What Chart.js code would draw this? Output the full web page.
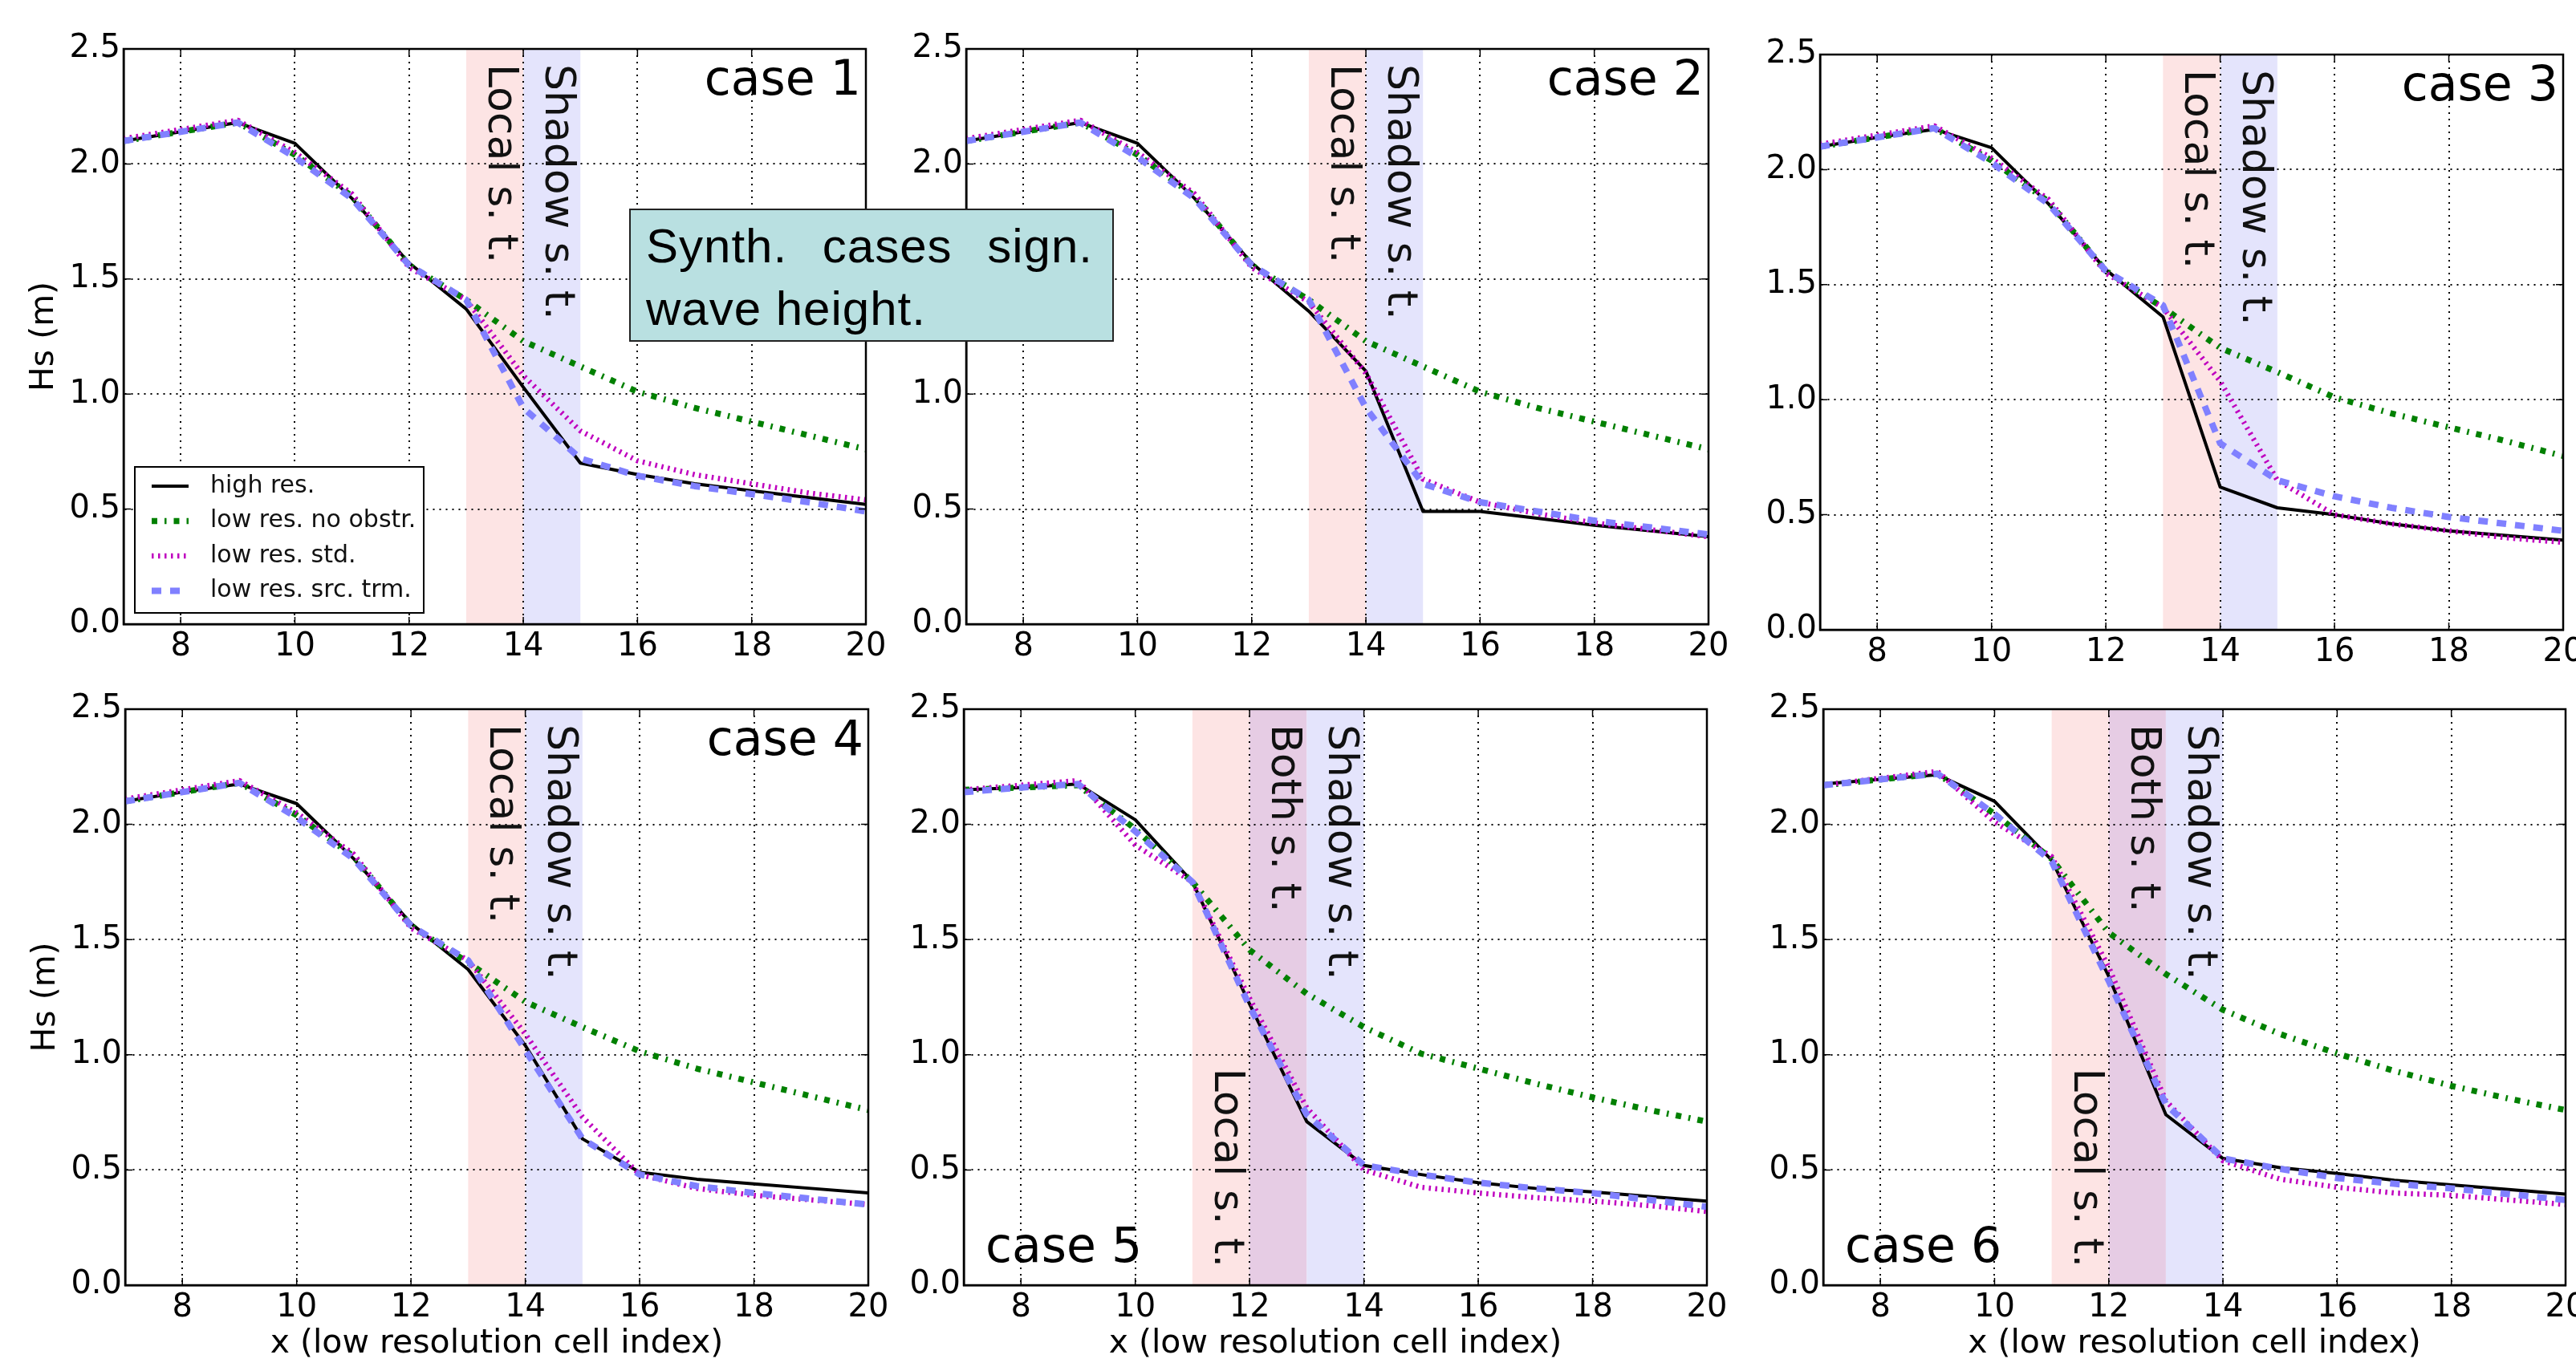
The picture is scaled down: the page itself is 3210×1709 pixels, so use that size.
<!DOCTYPE html>
<html>
<head>
<meta charset="utf-8">
<title>Synth. cases sign. wave height</title>
<script src="https://cdn.jsdelivr.net/npm/chart.js@4.4.0/dist/chart.umd.min.js"></script>
<style>
  html, body { margin: 0; padding: 0; background: #fff; overflow: hidden; }
  #page { position: relative; width: 3210px; height: 1709px; overflow: hidden; }
  #page canvas { position: absolute; }
  .note {
    position: absolute; left: 784px; top: 260px; width: 604px; height: 166px;
    box-sizing: border-box; padding: 6px 0 0 19px;
    background: #b9e0e1; border: 2px solid #222; z-index: 5;
    font-family: 'Liberation Sans', Arial, sans-serif; font-size: 60px; line-height: 78px;
    letter-spacing: 1px; color: #000; white-space: nowrap;
  }
  .note .l1 { word-spacing: 26px; }
</style>
</head>
<body>
<div id="page">
  <div class="note"><div class="l1">Synth. cases sign.</div><div>wave height.</div></div>
</div>
<script>
// low resolution cell index (x) and axis ticks
const xCells = [7, 8, 9, 10, 11, 12, 13, 14, 15, 16, 17, 18, 19, 20];
const xTicks = [8, 10, 12, 14, 16, 18, 20];
const yTicks = [0, 0.5, 1, 1.5, 2, 2.5];
const yTickLabels = ['0.0', '0.5', '1.0', '1.5', '2.0', '2.5'];

const seriesNames = ['high res.', 'low res. no obstr.', 'low res. std.', 'low res. src. trm.'];
const caseNames = ['case 1', 'case 2', 'case 3', 'case 4', 'case 5', 'case 6'];
const xTitle = 'x (low resolution cell index)';
const yTitle = 'Hs (m)';

// Hs (m), one row per case
const highRes = [
  [2.10, 2.14, 2.18, 2.09, 1.85, 1.57, 1.37, 1.03, 0.70, 0.65, 0.61, 0.58, 0.55, 0.52],
  [2.10, 2.14, 2.18, 2.09, 1.85, 1.57, 1.36, 1.10, 0.49, 0.49, 0.46, 0.43, 0.405, 0.38],
  [2.10, 2.14, 2.175, 2.095, 1.85, 1.565, 1.36, 0.62, 0.53, 0.50, 0.46, 0.43, 0.41, 0.39],
  [2.10, 2.14, 2.175, 2.09, 1.85, 1.57, 1.37, 1.04, 0.635, 0.49, 0.46, 0.44, 0.42, 0.40],
  [2.15, 2.16, 2.175, 2.02, 1.75, 1.22, 0.71, 0.52, 0.48, 0.445, 0.42, 0.405, 0.385, 0.365],
  [2.175, 2.195, 2.215, 2.10, 1.845, 1.34, 0.74, 0.55, 0.51, 0.485, 0.455, 0.435, 0.415, 0.395]
];
const lowNoObstr = [
  [2.10, 2.14, 2.18, 2.04, 1.86, 1.56, 1.41, 1.23, 1.12, 1.01, 0.94, 0.88, 0.82, 0.76],
  [2.10, 2.14, 2.18, 2.04, 1.86, 1.56, 1.41, 1.23, 1.12, 1.01, 0.94, 0.88, 0.82, 0.76],
  [2.10, 2.14, 2.18, 2.04, 1.86, 1.56, 1.40, 1.225, 1.12, 1.01, 0.94, 0.88, 0.82, 0.755],
  [2.10, 2.14, 2.18, 2.04, 1.86, 1.56, 1.40, 1.23, 1.12, 1.015, 0.94, 0.88, 0.82, 0.76],
  [2.15, 2.16, 2.17, 1.98, 1.75, 1.455, 1.265, 1.12, 1.005, 0.94, 0.875, 0.815, 0.76, 0.71],
  [2.17, 2.195, 2.22, 2.045, 1.85, 1.53, 1.35, 1.195, 1.09, 1.005, 0.93, 0.865, 0.81, 0.76]
];
const lowStd = [
  [2.11, 2.15, 2.19, 2.05, 1.87, 1.55, 1.41, 1.08, 0.84, 0.71, 0.65, 0.61, 0.57, 0.54],
  [2.11, 2.15, 2.19, 2.05, 1.87, 1.55, 1.40, 1.09, 0.63, 0.53, 0.48, 0.44, 0.41, 0.38],
  [2.11, 2.15, 2.19, 2.05, 1.87, 1.55, 1.40, 1.08, 0.65, 0.50, 0.46, 0.43, 0.40, 0.38],
  [2.11, 2.15, 2.19, 2.05, 1.87, 1.55, 1.41, 1.09, 0.73, 0.48, 0.42, 0.39, 0.37, 0.35],
  [2.15, 2.17, 2.19, 1.91, 1.75, 1.245, 0.77, 0.50, 0.425, 0.40, 0.38, 0.365, 0.345, 0.32],
  [2.17, 2.20, 2.23, 2.01, 1.86, 1.38, 0.80, 0.54, 0.46, 0.425, 0.40, 0.39, 0.37, 0.35]
];
const lowSrcTrm = [
  [2.10, 2.14, 2.18, 2.03, 1.85, 1.56, 1.41, 0.94, 0.72, 0.645, 0.60, 0.565, 0.53, 0.49],
  [2.10, 2.14, 2.18, 2.03, 1.85, 1.56, 1.41, 0.94, 0.61, 0.53, 0.49, 0.45, 0.42, 0.39],
  [2.10, 2.14, 2.18, 2.03, 1.85, 1.56, 1.41, 0.81, 0.65, 0.58, 0.53, 0.49, 0.46, 0.43],
  [2.10, 2.14, 2.18, 2.03, 1.85, 1.56, 1.41, 1.02, 0.635, 0.48, 0.43, 0.40, 0.375, 0.35],
  [2.14, 2.16, 2.175, 1.97, 1.75, 1.21, 0.74, 0.52, 0.48, 0.445, 0.42, 0.40, 0.37, 0.34],
  [2.17, 2.195, 2.22, 2.045, 1.84, 1.32, 0.785, 0.55, 0.505, 0.465, 0.44, 0.42, 0.395, 0.37]
];

// sub-timestep zones per case, in cell index
const localZone = [[13, 14], [13, 14], [13, 14], [13, 14], [11, 12], [11, 12]];
const bothZone = [null, null, null, null, [12, 13], [12, 13]];
const shadowZone = [[14, 15], [14, 15], [14, 15], [14, 15], [13, 14], [13, 14]];
const zoneNames = { local: 'Local s. t.', both: 'Both s. t.', shadow: 'Shadow s. t.' };

// layout: plot area of each panel in page pixels
const plotBoxes = [
  { l: 154, t: 61, r: 1079, b: 778 },
  { l: 1204, t: 61, r: 2129, b: 778 },
  { l: 2268, t: 68, r: 3194, b: 785 },
  { l: 156, t: 884, r: 1082, b: 1602 },
  { l: 1201, t: 884, r: 2127, b: 1602 },
  { l: 2272, t: 884, r: 3197, b: 1602 }
];
const LEFT = 150, TOP = 40, RIGHT = 45, BOTTOM = 105;

const series = [highRes, lowNoObstr, lowStd, lowSrcTrm];
const lineStyles = [
  { color: '#000000', width: 4, dash: [] },
  { color: '#008000', width: 7.5, dash: [7, 9, 2.5, 9] },
  { color: '#bf00bf', width: 6.5, dash: [2.5, 5.5] },
  { color: '#8080ff', width: 8, dash: [12, 11] }
];
const zoneColors = { local: '#fde4e4', both: '#e6cce4', shadow: '#e4e4fc' };
const FONT = "'DejaVu Sans', sans-serif";

function zoneList(c) {
  const out = [{ kind: 'local', span: localZone[c] }];
  if (bothZone[c]) out.push({ kind: 'both', span: bothZone[c] });
  out.push({ kind: 'shadow', span: shadowZone[c] });
  return out;
}

const panelDecor = {
  id: 'panelDecor',
  beforeDraw(chart, args, opts) {
    const { ctx, chartArea: a, scales: { x } } = chart;
    ctx.save();
    zoneList(opts.caseIndex).forEach(z => {
      const x0 = x.getPixelForValue(z.span[0]);
      const x1 = x.getPixelForValue(z.span[1]);
      ctx.fillStyle = zoneColors[z.kind];
      ctx.fillRect(x0, a.top, x1 - x0, a.bottom - a.top);
    });
    ctx.restore();
  },
  afterDatasetsDraw(chart, args, opts) {
    const { ctx, chartArea: a, scales: { x, y } } = chart;
    const c = opts.caseIndex;
    const lower = c >= 4;
    ctx.save();

    // inner tick marks
    ctx.strokeStyle = '#000';
    ctx.lineWidth = 1.5;
    ctx.beginPath();
    xTicks.forEach(v => {
      const px = x.getPixelForValue(v);
      ctx.moveTo(px, a.bottom); ctx.lineTo(px, a.bottom - 9);
      ctx.moveTo(px, a.top); ctx.lineTo(px, a.top + 9);
    });
    yTicks.forEach(v => {
      const py = y.getPixelForValue(v);
      ctx.moveTo(a.left, py); ctx.lineTo(a.left + 9, py);
      ctx.moveTo(a.right, py); ctx.lineTo(a.right - 9, py);
    });
    ctx.stroke();

    // frame
    ctx.lineWidth = 2.5;
    ctx.strokeRect(a.left, a.top, a.right - a.left, a.bottom - a.top);

    // zone labels, written top to bottom
    ctx.fillStyle = '#111';
    ctx.font = '52px ' + FONT;
    zoneList(c).forEach(z => {
      const xc = (x.getPixelForValue(z.span[0]) + x.getPixelForValue(z.span[1])) / 2 + 6;
      const atTop = !(lower && z.kind === 'local');
      ctx.save();
      ctx.translate(xc, atTop ? a.top + 19 : a.bottom - 22);
      ctx.rotate(Math.PI / 2);
      ctx.textAlign = atTop ? 'left' : 'right';
      ctx.textBaseline = 'middle';
      ctx.fillText(zoneNames[z.kind], 0, 0);
      ctx.restore();
    });

    // case label
    ctx.fillStyle = '#000';
    ctx.font = '60px ' + FONT;
    ctx.textBaseline = 'alphabetic';
    if (lower) {
      ctx.textAlign = 'left';
      ctx.fillText(caseNames[c], a.left + 27, a.bottom - 29);
    } else {
      ctx.textAlign = 'right';
      ctx.fillText(caseNames[c], a.right - 6, a.top + 57);
    }

    // legend
    if (opts.legend) {
      const bl = a.left + 14, bw = 360, bh = 182, bt = a.bottom - 14 - bh;
      ctx.fillStyle = '#fff';
      ctx.fillRect(bl, bt, bw, bh);
      ctx.lineWidth = 2;
      ctx.strokeStyle = '#000';
      ctx.strokeRect(bl, bt, bw, bh);
      ctx.font = '30px ' + FONT;
      ctx.textAlign = 'left';
      ctx.textBaseline = 'middle';
      seriesNames.forEach((name, k) => {
        const ry = bt + 24 + k * 43.5;
        const st = lineStyles[k];
        ctx.save();
        ctx.strokeStyle = st.color;
        ctx.lineWidth = st.width;
        ctx.setLineDash(st.dash);
        ctx.lineCap = 'butt';
        ctx.beginPath();
        ctx.moveTo(bl + 21, ry);
        ctx.lineTo(bl + 67, ry);
        ctx.stroke();
        ctx.restore();
        ctx.fillStyle = '#111';
        ctx.fillText(name, bl + 94, ry);
      });
    }
    ctx.restore();
  }
};

const page = document.getElementById('page');

plotBoxes.forEach((box, c) => {
  const canvas = document.createElement('canvas');
  canvas.width = box.r - box.l + LEFT + RIGHT;
  canvas.height = box.b - box.t + TOP + BOTTOM;
  canvas.style.left = (box.l - LEFT) + 'px';
  canvas.style.top = (box.t - TOP) + 'px';
  page.appendChild(canvas);

  new Chart(canvas, {
    type: 'line',
    data: {
      datasets: series.map((s, k) => ({
        label: seriesNames[k],
        data: xCells.map((xv, j) => ({ x: xv, y: s[c][j] })),
        borderColor: lineStyles[k].color,
        borderWidth: lineStyles[k].width,
        borderDash: lineStyles[k].dash,
        borderCapStyle: 'butt',
        borderJoinStyle: 'round',
        pointRadius: 0,
        tension: 0,
        fill: false,
        order: 3 - k
      }))
    },
    options: {
      responsive: false,
      animation: false,
      devicePixelRatio: 1,
      layout: { padding: { top: TOP, right: RIGHT, left: 0, bottom: 0 } },
      plugins: {
        legend: { display: false },
        tooltip: { enabled: false },
        panelDecor: { caseIndex: c, legend: c === 0 }
      },
      scales: {
        x: {
          type: 'linear',
          min: 7,
          max: 20,
          afterBuildTicks: s => { s.ticks = xTicks.map(v => ({ value: v })); },
          afterFit: s => { s.height = BOTTOM; s.paddingLeft = 0; s.paddingRight = 0; },
          grid: { color: '#000', lineWidth: 2, drawTicks: false },
          border: { display: true, color: '#000', width: 2.5, dash: [2, 6] },
          ticks: { color: '#000', font: { family: FONT, size: 40 }, padding: 5, maxRotation: 0, autoSkip: false },
          title: {
            display: c >= 3,
            text: xTitle,
            color: '#000',
            font: { family: FONT, size: 41 },
            padding: { top: 0, bottom: 7 }
          }
        },
        y: {
          type: 'linear',
          min: 0,
          max: 2.5,
          afterBuildTicks: s => { s.ticks = yTicks.map(v => ({ value: v })); },
          afterFit: s => { s.width = LEFT; s.paddingTop = 0; s.paddingBottom = 0; },
          grid: { color: '#000', lineWidth: 2, drawTicks: false },
          border: { display: true, color: '#000', width: 2.5, dash: [2, 6] },
          ticks: {
            color: '#000',
            font: { family: FONT, size: 40 },
            padding: 4,
            callback: (v, i) => yTickLabels[i]
          },
          title: {
            display: c === 0 || c === 3,
            text: yTitle,
            color: '#000',
            font: { family: FONT, size: 41 },
            padding: { top: 27, bottom: 0 }
          }
        }
      }
    },
    plugins: [panelDecor]
  });
});
</script>
</body>
</html>
